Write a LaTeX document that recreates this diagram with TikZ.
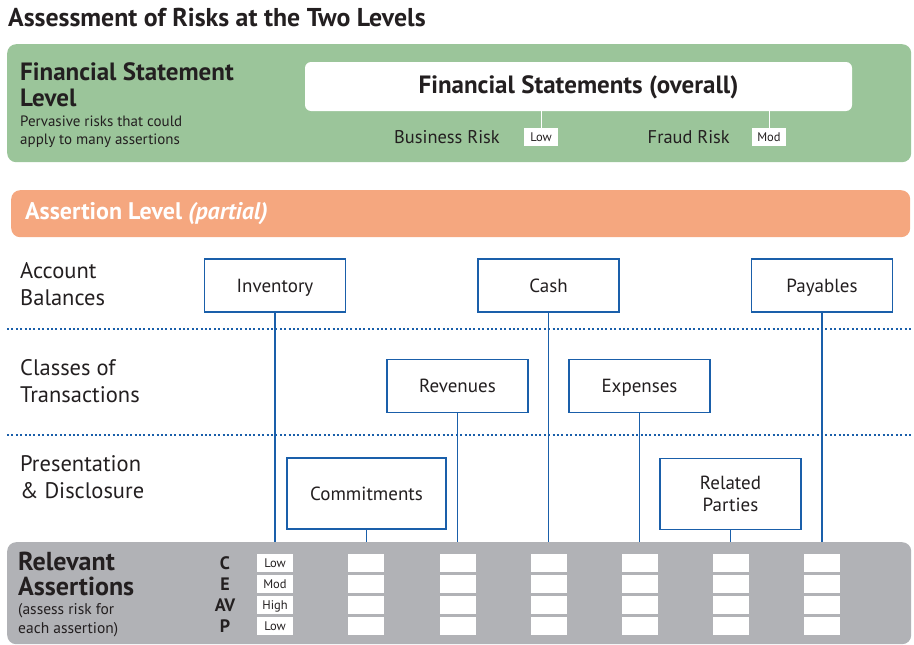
\documentclass[tikz,border=0pt]{standalone}
\usepackage{fontspec}
\setmainfont{PT Sans}
\usetikzlibrary{positioning}
\definecolor{fsgreen}{HTML}{9BC59A}
\definecolor{alorange}{HTML}{F5A77F}
\definecolor{relgray}{HTML}{B1B2B6}
\definecolor{boxblue}{HTML}{1A5FAA}
\definecolor{textgray}{HTML}{231F20}

\begin{document}
\begin{tikzpicture}[x=1pt, y=-1pt]
	% Styles
	\tikzset{
		panel/.style={rounded corners=9pt, anchor=north west, inner sep=0pt},
		abox/.style={draw=boxblue, line width=1.6pt, fill=white, minimum width=141pt, minimum height=53pt, align=center, text=textgray, text height=13.5pt, text depth=0pt, font=\fontsize{19}{22}\selectfont},
		tag/.style={fill=white, minimum width=34pt, minimum height=18pt, inner sep=0pt, text=textgray, text height=8.8pt, text depth=0pt, font=\fontsize{12.5}{14}\selectfont},
		cell/.style={fill=white, minimum width=36pt, minimum height=18pt, inner sep=0pt, text=textgray, text height=8.8pt, text depth=0pt, font=\fontsize{12.5}{14}\selectfont},
		link/.style={draw=boxblue, line width=1.6pt},
		divider/.style={draw=boxblue, line width=1.6pt, dash pattern=on 2pt off 2.4pt},
		rowlabel/.style={anchor=west, align=left, inner sep=0pt, text=textgray, font=\fontsize{22.5}{27}\selectfont},
		letter/.style={inner sep=0pt, text=textgray, font=\bfseries\fontsize{18}{20}\selectfont}
	}
	\useasboundingbox (0,0) rectangle (914,645);

	% Title
	\node[anchor=west, inner sep=0pt, text=textgray, font=\bfseries\fontsize{25.8}{28}\selectfont] (Title) at (8,18) {Assessment of Risks at the Two Levels};

	% Financial statement level panel
	\node[panel, fill=fsgreen, minimum width=904pt, minimum height=118pt] (FSPanel) at (7,44) {};
	\node[anchor=west, align=left, inner sep=0pt, text=textgray, font=\bfseries\fontsize{25}{26}\selectfont] (FSLevel) at (20,85) {Financial Statement\\Level};
	\node[anchor=north west, align=left, inner sep=0pt, text=textgray, font=\fontsize{15}{18}\selectfont] (FSNote) at (20,116) {Pervasive risks that could\\apply to many assertions};
	\node[fill=white, rounded corners=6pt, minimum width=547pt, minimum height=49pt, text=textgray, text height=14.5pt, text depth=0pt, font=\bfseries\fontsize{25}{28}\selectfont] (FSOverall) at (578.5,86.5) {Financial Statements (overall)};
	\node[tag] (BRTag) at (541,137) {Low};
	\node[tag] (FRTag) at (769,137) {Mod};
	\node[anchor=east, inner sep=0pt, text=textgray, font=\fontsize{18.4}{21}\selectfont] (BRLabel) at (500,137) {Business Risk};
	\node[anchor=east, inner sep=0pt, text=textgray, font=\fontsize{18.4}{21}\selectfont] (FRLabel) at (730,137) {Fraud Risk};
	\draw[white, line width=0.8pt] (FSOverall.south -| BRTag.north) -- (BRTag.north);
	\draw[white, line width=0.8pt] (FSOverall.south -| FRTag.north) -- (FRTag.north);

	% Assertion level bar
	\node[panel, fill=alorange, minimum width=899pt, minimum height=47pt] (ALBar) at (11,190) {};
	\node[anchor=west, inner sep=0pt, text=white, font=\bfseries\fontsize{24}{26}\selectfont] (ALLabel) at (25,214) {Assertion Level \textit{(partial)}};

	% Row labels
	\node[rowlabel] (RowAB) at (20,284.5) {Account\\Balances};
	\node[rowlabel] (RowCT) at (20,381.5) {Classes of\\Transactions};
	\node[rowlabel] (RowPD) at (20,477.5) {Presentation\\\& Disclosure};

	% Dotted dividers
	\coordinate (DivAL) at (7,329);
	\coordinate (DivAR) at (911,329);
	\coordinate (DivBL) at (7,435);
	\coordinate (DivBR) at (911,435);
	\draw[divider] (DivAL) -- (DivAR);
	\draw[divider] (DivBL) -- (DivBR);

	% Relevant assertions bar
	\node[panel, fill=relgray, minimum width=904pt, minimum height=102pt] (RelBar) at (7,542) {};
	\node[anchor=west, align=left, inner sep=0pt, text=textgray, font=\bfseries\fontsize{26}{25}\selectfont] (RelLabel) at (18,573.5) {Relevant\\Assertions};
	\node[anchor=west, align=left, inner sep=0pt, text=textgray, font=\fontsize{15.5}{19}\selectfont] (RelNote) at (18,620.5) {(assess risk for\\each assertion)};

	% Account boxes
	\node[abox] (Inventory) at (275,285.5) {Inventory};
	\node[abox] (Cash) at (548.5,285.5) {Cash};
	\node[abox] (Payables) at (822,285.5) {Payables};
	\node[abox] (Revenues) at (457.5,386) {Revenues};
	\node[abox] (Expenses) at (639.5,386) {Expenses};
	\node[abox, minimum width=159pt, minimum height=71pt] (Commitments) at (366.5,493.5) {Commitments};
	\node[abox, minimum height=71pt, text height=, text depth=] (Related) at (730.5,494) {Related\\Parties};

	% Lines down to the assertion cells
	\foreach \b in {Inventory,Cash,Payables,Revenues,Expenses,Commitments,Related}
		\draw[link] (\b.south) -- (\b.south |- RelBar.north);

	% Assertion letters and first column of risks
	\foreach \ry/\ltr/\lbl [count=\j] in {563/C/Low,584/E/Mod,605/AV/High,626/P/Low} {
		\node[letter] (Letter-\j) at (225,\ry) {\ltr};
		\node[cell] (Cell-1-\j) at (275,\ry) {\lbl};
	}

	% Empty cells
	\foreach \cx [count=\i from 2] in {366,458,549,640,731,822}
		\foreach \ry [count=\j] in {563,584,605,626}
			\node[cell] (Cell-\i-\j) at (\cx,\ry) {};

\end{tikzpicture}
\end{document}
